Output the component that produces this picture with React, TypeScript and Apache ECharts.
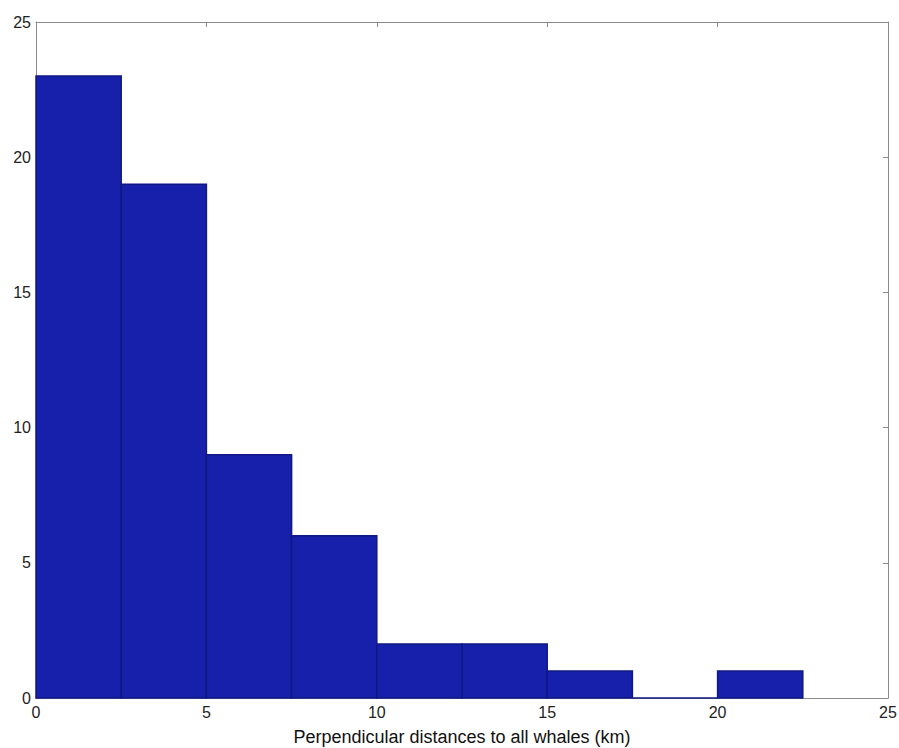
import React, { useEffect, useRef } from "react";
import * as echarts from "echarts";

const binStarts = [0, 2.5, 5, 7.5, 10, 12.5, 15, 17.5, 20];
const binWidth = 2.5;
const counts = [23, 19, 9, 6, 2, 2, 1, 0, 1];
const xTitle = "Perpendicular distances to all whales (km)";

export default function App() {
  const ref = useRef<HTMLDivElement>(null);
  useEffect(() => {
    const chart = echarts.init(ref.current!, null, { renderer: "svg" });
    const data = binStarts.map((s, i) => [s, s + binWidth, counts[i]]);
    const axisCommon = {
      type: "value" as const,
      min: 0,
      max: 25,
      interval: 5,
      axisLine: { show: true, onZero: false, lineStyle: { color: "#8a8a8a", width: 1 } },
      axisTick: { show: true, inside: true, length: 5, lineStyle: { color: "#8a8a8a" } },
      splitLine: { show: false },
    };
    chart.setOption({
      animation: false,
      backgroundColor: "#ffffff",
      grid: {
        left: 36,
        right: 11,
        top: 22,
        bottom: 50,
        containLabel: false,
        outerBoundsMode: "none",
      },
      xAxis: [
        {
          ...axisCommon,
          position: "bottom",
          axisLabel: { color: "#222", fontFamily: "Liberation Sans, Arial", fontSize: 16, margin: 6 },
          name: xTitle,
          nameLocation: "middle",
          nameGap: 30,
          nameTextStyle: { color: "#111", fontFamily: "Liberation Sans, Arial", fontSize: 18 },
        },
        { ...axisCommon, position: "top", axisLabel: { show: false } },
      ],
      yAxis: [
        {
          ...axisCommon,
          position: "left",
          axisLabel: { color: "#222", fontFamily: "Liberation Sans, Arial", fontSize: 16, margin: 5 },
        },
        { ...axisCommon, position: "right", axisLabel: { show: false } },
      ],
      series: [
        {
          type: "custom",
          xAxisIndex: 0,
          yAxisIndex: 0,
          data,
          encode: { x: [0, 1], y: 2 },
          renderItem: (params: any, api: any) => {
            const x0 = api.value(0);
            const x1 = api.value(1);
            const v = api.value(2);
            const p0 = api.coord([x0, v]);
            const p1 = api.coord([x1, 0]);
            return {
              type: "rect",
              shape: { x: p0[0], y: p0[1], width: p1[0] - p0[0], height: p1[1] - p0[1] },
              style: { fill: "#1620aa", stroke: "#101884", lineWidth: 1.5 },
            };
          },
        },
      ],
    });
    return () => chart.dispose();
  }, []);
  return (
    <div
      ref={ref}
      style={{ position: "absolute", left: 0, top: 0, width: 899, height: 748 }}
    />
  );
}
